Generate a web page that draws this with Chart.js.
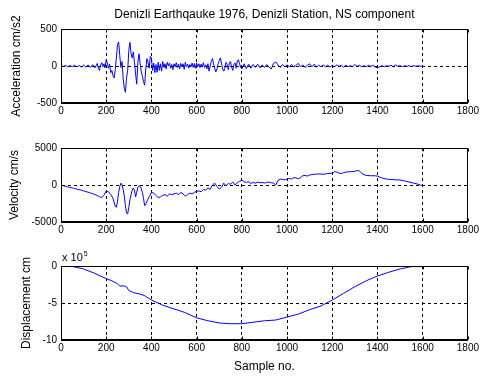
<!DOCTYPE html>
<html><head><meta charset="utf-8">
<script src="https://cdn.jsdelivr.net/npm/chart.js@4/dist/chart.umd.min.js"></script>
<style>
html,body{margin:0;padding:0;background:#fff;}
#wrap{position:relative;width:481px;height:376px;overflow:hidden;}
canvas{position:absolute;left:0;top:0;}
</style></head><body>
<div id="wrap">
<canvas id="c1" width="481" height="376"></canvas>
<canvas id="c2" width="481" height="376"></canvas>
<canvas id="c3" width="481" height="376"></canvas>
</div>
<script>
// ---- text ----
const chartTitle = 'Denizli Earthqauke 1976, Denizli Station, NS component';
const accLabel = 'Acceleration cm/s2';
const velLabel = 'Velocity cm/s';
const dispLabel = 'Displacement cm';
const xLabel = 'Sample no.';
const dispExponent = ['x 10', '5'];

// ---- tick labels ----
const xTickValues = [0, 200, 400, 600, 800, 1000, 1200, 1400, 1600, 1800];
const accTicks = [-500, 0, 500];
const velTicks = [-5000, 0, 5000];
const dispTicks = [-10, -5, 0];   // x 10^5

// ---- acceleration (cm/s2) ----
const accSample = [0,10,20,30,40,50,60,70,80,90,100,110,120,130,140,150,160,165,170,175,180,185,190,195,
200,205,210,215,220,225,230,235,240,245,250,255,260,265,270,275,280,285,290,295,300,305,310,315,320,325,330,335,340,345,350,355,360,365,370,375,380,385,390,395,
400,405,410,415,420,425,430,435,440,445,450,455,460,465,470,475,480,485,490,495,500,505,510,515,520,525,530,535,540,545,550,555,560,565,570,575,580,585,590,595,
600,605,610,615,620,625,630,635,640,645,650,655,660,665,670,675,680,685,690,695,700,705,710,715,720,725,730,735,740,745,750,755,760,765,770,775,780,785,790,795,
800,810,820,830,840,850,860,870,880,890,900,910,920,930,940,950,960,970,980,990,
1000,1010,1020,1030,1040,1050,1060,1070,1080,1090,1100,1110,1120,1130,1140,1150,1160,1170,1180,1190,
1200,1210,1220,1230,1240,1250,1260,1270,1280,1290,1300,1310,1320,1330,1340,1350,1360,1370,1380,1390,
1400,1410,1420,1430,1440,1450,1460,1470,1480,1490,1500,1510,1520,1530,1540,1550,1560,1570,1580,1590,1600];
const accValue = [0,-6,8,-10,5,-8,10,-12,6,-14,12,-15,14,-20,18,-25,35,-30,-60,10,45,-10,30,-25,
85,40,-30,25,-90,-60,-130,-160,-50,110,290,325,140,-20,60,-170,-300,-355,-160,-60,210,320,170,110,190,50,-110,-245,50,165,30,-70,-140,-210,-260,-40,100,50,-30,130,
110,-60,40,-90,20,-85,50,-60,30,-70,60,-20,30,-40,50,0,40,-30,20,-50,30,-10,45,-20,25,-40,35,-10,30,-45,50,-10,25,-30,20,-10,40,-20,35,-30,
40,-10,30,-20,25,-15,45,-20,15,-40,30,-70,0,60,100,30,-30,-80,-40,30,70,110,40,-40,-70,-30,50,20,-50,40,60,-20,-60,20,40,-30,70,85,30,-20,
-40,30,-35,25,-30,20,-20,25,-25,15,-20,20,-15,-40,35,55,15,-20,20,-10,
15,-10,20,-15,10,35,-10,15,-20,10,30,-10,25,-15,10,-10,15,-10,10,-15,
10,-10,15,-5,10,-15,10,-10,5,-10,20,-5,10,-10,5,-10,10,-5,10,-15,
-25,-10,5,-10,5,-5,10,-10,15,-5,5,-10,5,-5,5,-8,5,-5,3,-3,0];

// ---- velocity (cm/s) ----
const velSample = [0,10,20,30,40,50,60,70,80,90,100,110,120,130,140,150,160,170,180,190,
200,210,220,230,240,245,250,255,260,265,270,275,280,285,290,295,300,305,310,315,320,325,330,335,340,345,350,355,360,365,370,375,380,390,
400,410,420,430,440,450,460,470,480,490,500,510,520,530,540,550,560,570,580,590,
600,610,620,630,640,650,660,670,680,690,700,710,720,730,740,750,760,770,780,790,
800,810,820,830,840,850,860,870,880,890,900,910,920,930,940,950,960,970,980,990,
1000,1010,1020,1030,1040,1050,1060,1070,1080,1090,1100,1120,1140,1160,1180,1200,1210,1220,1230,1240,1250,1260,1280,1300,1310,1320,1330,1340,1350,1370,1390,
1400,1420,1440,1460,1480,1500,1520,1540,1560,1580,1600];
const velValue = [0,-100,-180,-250,-330,-400,-480,-550,-640,-700,-800,-880,-980,-1080,-1180,-1280,-1420,-1580,-1700,-1400,
-800,-900,-1300,-1800,-2900,-3000,-2200,-1000,-200,250,0,-600,-1500,-2800,-3800,-3900,-3000,-2000,-1300,-700,-400,-700,-1600,-1000,-300,-100,-200,-500,-1000,-1800,-2800,-2600,-2200,-1600,
-1000,-1100,-1400,-1700,-1600,-1400,-1300,-1500,-1200,-1300,-1200,-1100,-1300,-1000,-1200,-1500,-1300,-1100,-1200,-1000,
-850,-800,-900,-600,-700,-400,-600,0,250,-200,-550,-300,250,-100,200,100,400,0,300,500,
650,450,350,450,200,350,250,400,300,350,250,350,400,300,250,0,600,800,750,700,
800,900,800,1000,950,850,1000,1250,1300,1200,1350,1450,1500,1450,1550,1600,1800,1750,1600,1550,1650,1750,1800,1850,1950,1900,1600,1400,1300,1250,1250,
1200,950,800,750,700,680,550,400,250,100,-100];

// ---- displacement (x 10^5 cm) ----
const dispSample = [0,50,100,150,200,225,250,260,280,290,300,320,350,370,400,450,500,550,600,650,700,750,800,850,900,950,1000,1050,1100,1150,1200,1250,1300,1350,1400,1450,1500,1550,1600];
const dispValue = [0,-0.05,-0.4,-1.0,-1.7,-2.0,-2.4,-2.7,-2.7,-2.8,-3.3,-3.6,-3.8,-4.0,-4.6,-5.3,-5.8,-6.3,-7.0,-7.4,-7.7,-7.8,-7.8,-7.6,-7.4,-7.3,-6.9,-6.5,-5.9,-5.4,-4.6,-3.7,-2.8,-2.0,-1.35,-0.85,-0.4,-0.08,-0.08];

// ---- style ----
const FONT = "'Liberation Sans', Arial, sans-serif";
const tickFont = {family: FONT, size: 10};
const labelFont = {family: FONT, size: 12};

const boxPlugin = {
  id: 'box',
  afterDraw(chart) {
    const {ctx, chartArea: a} = chart;
    const l = Math.round(a.left) + 0.5, r = Math.round(a.right) - 0.5;
    const t = Math.round(a.top) + 0.5, b = Math.round(a.bottom) - 0.5;
    ctx.save();
    ctx.strokeStyle = '#000'; ctx.lineWidth = 1; ctx.setLineDash([]);
    ctx.beginPath();
    ctx.rect(l, t, r - l, b - t);
    const xs = chart.scales.x, ys = chart.scales.y;
    xs.ticks.forEach(tk => {
      const p = Math.round(xs.getPixelForValue(tk.value)) + 0.5;
      ctx.moveTo(p, b); ctx.lineTo(p, b - 3);
      ctx.moveTo(p, t); ctx.lineTo(p, t + 3);
    });
    ys.ticks.forEach(tk => {
      const p = Math.round(ys.getPixelForValue(tk.value)) + 0.5;
      ctx.moveTo(l, p); ctx.lineTo(l + 3, p);
      ctx.moveTo(r, p); ctx.lineTo(r - 3, p);
    });
    ctx.stroke();
    const ex = chart.options.plugins.box && chart.options.plugins.box.exponent;
    if (ex) {
      ctx.fillStyle = '#000';
      ctx.textBaseline = 'alphabetic';
      ctx.font = `11px ${FONT}`;
      ctx.fillText(ex[0], a.left + 1, a.top - 5);
      const w = ctx.measureText(ex[0]).width;
      ctx.font = `7px ${FONT}`;
      ctx.fillText(ex[1], a.left + 2 + w, a.top - 10);
    }
    ctx.restore();
  }
};

function makeChart(id, xs, ys, cfg) {
  return new Chart(document.getElementById(id), {
    type: 'line',
    data: { datasets: [{
      data: xs.map((x, i) => ({x: x, y: ys[i]})),
      borderColor: '#0000ff', borderWidth: 1, pointRadius: 0, tension: 0, fill: false
    }]},
    options: {
      responsive: false, animation: false, devicePixelRatio: 1,
      layout: { autoPadding: false, padding: {left: cfg.padLeft, right: 11, top: cfg.padTop, bottom: cfg.padBottom} },
      plugins: {
        legend: {display: false}, tooltip: {enabled: false},
        title: cfg.title ? {display: true, text: cfg.title, fullSize: false, color: '#000', font: Object.assign({}, labelFont, {weight: 'normal'}), padding: {top: 7, bottom: 7.6}} : {display: false},
        box: {exponent: cfg.exponent || null}
      },
      scales: {
        x: {
          type: 'linear', min: 0, max: 1800,
          afterBuildTicks: s => { s.ticks = xTickValues.map(v => ({value: v})); },
          afterFit: s => { s.height = cfg.xHeight; },
          ticks: {font: tickFont, color: '#000', padding: 2, maxRotation: 0, autoSkip: false, callback: v => String(v)},
          grid: {color: '#000', lineWidth: 1, drawTicks: false},
          border: {display: true, color: '#000', dash: [3, 3]},
          title: cfg.xTitle ? {display: true, text: cfg.xTitle, color: '#000', font: labelFont, padding: {top: 0, bottom: 1.8}} : {display: false}
        },
        y: {
          type: 'linear', min: cfg.yTicks[0], max: cfg.yTicks[cfg.yTicks.length - 1],
          afterBuildTicks: s => { s.ticks = cfg.yTicks.map(v => ({value: v})); },
          afterFit: s => { s.width = 61 - cfg.padLeft; },
          ticks: {font: tickFont, color: '#000', padding: 4, callback: v => String(v)},
          grid: {color: '#000', lineWidth: 1, drawTicks: false},
          border: {display: true, color: '#000', dash: [3, 3]},
          title: {display: true, text: cfg.yTitle, color: '#000', font: labelFont, padding: 0}
        }
      }
    },
    plugins: [boxPlugin]
  });
}

makeChart('c1', accSample, accValue, {padLeft: 9, padTop: 0, padBottom: 376 - 103 - 20, xHeight: 20, yTicks: accTicks, yTitle: accLabel, title: chartTitle});
makeChart('c2', velSample, velValue, {padLeft: 7, padTop: 148, padBottom: 376 - 222 - 20, xHeight: 20, yTicks: velTicks, yTitle: velLabel});
makeChart('c3', dispSample, dispValue, {padLeft: 19, padTop: 266, padBottom: 0, xHeight: 36, yTicks: dispTicks, yTitle: dispLabel, xTitle: xLabel, exponent: dispExponent});
</script>
</body></html>
